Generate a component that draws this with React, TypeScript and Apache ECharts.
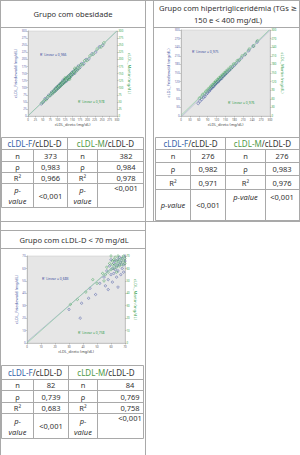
import React, { useEffect, useRef } from "react";
import * as echarts from "echarts";

// ---------- texts ----------
const panelTitles = ["Grupo com obesidade", "Grupo com hipertrigliceridémia (TGs ≥", "150 e < 400 mg/dL)", "Grupo com cLDL-D < 70 mg/dL"];
const xAxisTitle = "cLDL_direto (mg/dL)";
const leftAxisTitle = "cLDL_Friedewald (mg/dL)";
const rightAxisTitle = "cLDL_Martin (mg/dL)";
const axisMax = [300, 300, 70];
const axisStep = [25, 30, 10];
const r2F = ["R² Linear = 0,966", "R² Linear = 0,975", "R² Linear = 0,683"];
const r2M = ["R² Linear = 0,978", "R² Linear = 0,976", "R² Linear = 0,758"];

// ---------- table values ----------
const rowLabels = ["n", "ρ", "R²", "p-value"];
const obesStatsF = ["373", "0,983", "0,966", "<0,001"];
const obesStatsM = ["382", "0,984", "0,978", "<0,001"];
const htgStatsF = ["276", "0,982", "0,971", "<0,001"];
const htgStatsM = ["276", "0,983", "0,976", "<0,001"];
const lowStatsF = ["82", "0,739", "0,683", "<0,001"];
const lowStatsM = ["84", "0,769", "0,758", "<0,001"];

// ---------- scatter points [cLDL-D, estimate] ----------
const obesF = [
  [45, 43], [52, 50], [58, 61], [64, 62], [70, 73], [76, 74], [80, 84], [84, 82], [88, 91], [91, 88],
  [94, 98], [97, 94], [99, 103], [102, 99], [104, 108], [107, 104], [109, 113], [111, 109], [114, 117],
  [116, 113], [118, 126], [121, 118], [123, 127], [125, 122], [128, 131], [130, 124], [133, 137], [135, 132],
  [138, 141], [141, 136], [143, 147], [146, 143], [149, 154], [152, 149], [155, 158], [158, 152], [162, 165],
  [166, 163], [170, 176], [175, 172], [181, 185], [188, 185], [196, 199], [205, 202], [216, 219], [228, 226],
  [241, 244], [252, 250],
];
const obesM = [
  [48, 47], [55, 55], [61, 58], [67, 68], [73, 71], [78, 80], [82, 79], [86, 88], [89, 86], [92, 95],
  [95, 92], [98, 101], [100, 98], [103, 106], [105, 102], [108, 111], [110, 107], [112, 116], [115, 112],
  [117, 120], [119, 116], [122, 125], [124, 121], [126, 130], [129, 126], [131, 134], [134, 130], [136, 140],
  [139, 136], [142, 145], [144, 141], [147, 151], [150, 147], [153, 156], [156, 153], [160, 163], [164, 160],
  [168, 172], [172, 168], [178, 181], [184, 181], [191, 195], [199, 196], [209, 212], [220, 218], [233, 236],
  [246, 244], [256, 258], [140, 130], [125, 134], [158, 168],
];
const htgF = [
  [58, 44], [64, 52], [70, 58], [76, 66], [80, 68], [85, 76], [89, 80], [93, 86], [96, 88], [99, 93],
  [102, 97], [105, 99], [108, 104], [110, 103], [113, 109], [116, 111], [118, 115], [121, 117], [124, 121],
  [126, 120], [129, 126], [132, 128], [135, 133], [137, 131], [140, 138], [143, 139], [146, 144], [149, 145],
  [152, 150], [156, 152], [160, 158], [164, 161], [169, 166], [174, 172], [180, 177], [187, 185], [195, 193],
  [204, 203], [215, 214], [228, 228], [243, 244], [256, 258],
];
const htgM = [
  [62, 62], [68, 66], [73, 75], [79, 78], [84, 86], [88, 87], [92, 94], [96, 95], [100, 103], [103, 102],
  [106, 109], [109, 108], [112, 115], [115, 114], [117, 121], [120, 119], [123, 127], [126, 125], [128, 132],
  [131, 130], [134, 138], [137, 136], [140, 144], [143, 142], [146, 150], [149, 148], [152, 156], [155, 154],
  [159, 163], [163, 161], [167, 171], [172, 170], [177, 181], [183, 182], [190, 193], [197, 196], [206, 209],
  [217, 216], [230, 233], [245, 244], [258, 262],
];
const lowF = [
  [30, 27], [38, 20], [39, 32], [44, 36], [45, 44], [49, 39], [52, 48], [55, 53], [56, 46], [57, 58],
  [58, 51], [59, 62], [60, 55], [61, 60], [61, 49], [62, 64], [62, 56], [63, 59], [63, 66], [64, 53],
  [64, 62], [65, 67], [65, 58], [65, 45], [66, 63], [66, 69], [67, 55], [67, 65], [68, 60], [68, 68],
  [69, 63], [69, 57], [70, 66], [70, 70], [60, 67], [58, 43],
];
const lowM = [
  [31, 31], [36, 35], [42, 41], [47, 51], [50, 48], [54, 56], [56, 55], [57, 61], [58, 57], [59, 64],
  [60, 59], [61, 63], [61, 66], [62, 60], [62, 67], [63, 63], [63, 69], [64, 61], [64, 66], [65, 64],
  [65, 70], [66, 62], [66, 67], [67, 65], [67, 71], [68, 63], [68, 68], [69, 66], [69, 70], [70, 64],
  [70, 68], [55, 50], [60, 70], [64, 57],
];
// fit lines (two end points)
const fitF = [[[0, 0], [300, 300]], [[0, -4], [300, 299]], [[0, 1], [70, 69]]];
const fitM = [[[0, 1], [300, 301]], [[0, 2], [300, 303]], [[0, 0], [70, 70]]];

const pointsF = [obesF, htgF, lowF];
const pointsM = [obesM, htgM, lowM];

// ---------- styling ----------
const FONT = "'Noto Sans', 'DejaVu Sans', sans-serif";
const BORDER = "#a9a9a9";
const BLUE = "#3e4fa0";
const GREEN = "#36a04e";
const HEAD_BLUE = "#3563a8";
const HEAD_GREEN = "#4f9a47";
const TXT = "#333333";

const grids = [
  { left: 28, top: 31, width: 89, height: 85 },
  { left: 181, top: 30, width: 89, height: 86 },
  { left: 27, top: 256, width: 98, height: 87 },
];
const symbolSizes = [2.6, 2.6, 2.2];

function hline(x1: number, x2: number, y: number) {
  return { type: "line", silent: true, shape: { x1, y1: y, x2, y2: y }, style: { stroke: BORDER, lineWidth: 1 } };
}
function vline(x: number, y1: number, y2: number) {
  return { type: "line", silent: true, shape: { x1: x, y1, x2: x, y2 }, style: { stroke: BORDER, lineWidth: 1 } };
}
function txt(x: number, y: number, text: string, size: number, fill = TXT, align = "center", extra: any = {}) {
  const italic = extra.italic ? "italic " : "";
  return {
    type: "text",
    silent: true,
    x,
    y,
    style: {
      text,
      fill,
      font: `${italic}${size}px ${FONT}`,
      align,
      verticalAlign: "middle",
      textAlign: align,
      textVerticalAlign: "middle",
      lineHeight: extra.lineHeight,
    },
  };
}
function header(x: number, y: number, which: string) {
  const col = which === "F" ? HEAD_BLUE : HEAD_GREEN;
  const font = `8px ${FONT}`;
  return {
    type: "text",
    silent: true,
    x,
    y,
    style: {
      text: `{a|cLDL-${which}}{b|/cLDL-D}`,
      align: "center",
      verticalAlign: "middle",
      textAlign: "center",
      textVerticalAlign: "middle",
      font,
      rich: {
        a: { fill: col, color: col, font },
        b: { fill: TXT, color: TXT, font },
      },
    },
  };
}

function table(cfg: any) {
  const { cols, rows, f, m, twoLineP, col4X, col4Align, pTop } = cfg;
  const [c0, c1, c2, c3, c4] = cols;
  const top = rows[0];
  const bot = rows[rows.length - 1];
  const els: any[] = [];
  rows.forEach((y: number) => els.push(hline(c0, c4, y)));
  els.push(vline(c0, top, bot), vline(c4, top, bot), vline(c2, top, bot));
  els.push(vline(c1, rows[1], bot), vline(c3, rows[1], bot));
  const hy = (rows[0] + rows[1]) / 2;
  els.push(header((c0 + c2) / 2, hy, "F"));
  els.push(header((c2 + c4) / 2, hy, "M"));
  for (let r = 0; r < 4; r++) {
    const y0 = rows[r + 1];
    const y1 = rows[r + 2];
    const cy = (y0 + y1) / 2;
    if (r < 3) {
      els.push(txt((c0 + c1) / 2, cy, rowLabels[r], 7.5));
      els.push(txt((c2 + c3) / 2, cy, rowLabels[r], 7.5));
      els.push(txt((c1 + c2) / 2, cy, f[r], 7.5));
      els.push(txt(col4X, cy, m[r], 7.5, TXT, col4Align));
    } else {
      const lbl = twoLineP ? "p-\nvalue" : rowLabels[3];
      els.push(txt((c0 + c1) / 2, cy, lbl, 7.5, TXT, "center", { italic: true, lineHeight: 11 }));
      els.push(txt((c2 + c3) / 2, twoLineP ? cy : y0 + pTop, lbl, 7.5, TXT, "center", { italic: true, lineHeight: 11 }));
      els.push(txt((c1 + c2) / 2, cy, f[r], 7.5));
      els.push(txt(col4X, y0 + pTop, m[r], 7.5, TXT, col4Align));
    }
  }
  return els;
}

function buildOption() {
  const xAxis: any[] = [];
  const yAxis: any[] = [];
  const series: any[] = [];
  const grid: any[] = [];
  for (let i = 0; i < 3; i++) {
    grid.push({ ...grids[i], show: true, backgroundColor: "#e6e6e6", borderColor: "#c4c4c4", borderWidth: 0.5 });
    const common = {
      gridIndex: i,
      type: "value",
      min: 0,
      max: axisMax[i],
      interval: axisStep[i],
      splitLine: { show: false },
      axisLine: { show: true, onZero: false, lineStyle: { color: "#9a9a9a", width: 0.5 } },
      axisTick: { show: true, length: 1.5, lineStyle: { color: "#9a9a9a", width: 0.5 } },
    };
    xAxis.push({
      ...common,
      name: xAxisTitle,
      nameLocation: "middle",
      nameGap: 6.5,
      nameTextStyle: { fontSize: 3.8, color: "#444", fontFamily: FONT },
      axisLabel: { fontSize: 2.8, margin: 2, color: "#555", fontFamily: FONT },
    });
    yAxis.push({
      ...common,
      position: "left",
      name: leftAxisTitle,
      nameLocation: "middle",
      nameGap: 7,
      nameRotate: 90,
      nameTextStyle: { fontSize: 4.2, color: BLUE, fontFamily: FONT },
      axisLabel: { fontSize: 2.8, margin: 1.5, color: "#5a62a6", fontFamily: FONT },
    });
    yAxis.push({
      ...common,
      position: "right",
      name: rightAxisTitle,
      nameLocation: "middle",
      nameGap: 7,
      nameRotate: -90,
      nameTextStyle: { fontSize: 4.2, color: GREEN, fontFamily: FONT },
      axisLabel: { fontSize: 2.8, margin: 1.5, color: GREEN, fontFamily: FONT },
    });
    series.push({
      type: "line",
      xAxisIndex: i,
      yAxisIndex: 2 * i,
      data: fitF[i],
      showSymbol: false,
      silent: true,
      lineStyle: { color: "#a9b0cf", width: 0.7 },
    });
    series.push({
      type: "line",
      xAxisIndex: i,
      yAxisIndex: 2 * i + 1,
      data: fitM[i],
      showSymbol: false,
      silent: true,
      lineStyle: { color: "#8ccba0", width: 0.7 },
    });
    series.push({
      type: "scatter",
      xAxisIndex: i,
      yAxisIndex: 2 * i,
      data: pointsF[i],
      symbol: "circle",
      symbolSize: symbolSizes[i],
      itemStyle: { color: "rgba(0,0,0,0)", borderColor: BLUE, borderWidth: 0.6 },
    });
    series.push({
      type: "scatter",
      xAxisIndex: i,
      yAxisIndex: 2 * i + 1,
      data: pointsM[i],
      symbol: "circle",
      symbolSize: symbolSizes[i],
      itemStyle: { color: "rgba(0,0,0,0)", borderColor: GREEN, borderWidth: 0.6 },
    });
  }

  const els: any[] = [];
  // frame
  els.push(hline(0, 300, 0.5));
  els.push(vline(0.5, 0, 455));
  els.push(vline(145.5, 0, 455));
  els.push(vline(153.5, 0, 221.5));
  els.push(vline(299.5, 0, 221.5));
  els.push(hline(0, 145.5, 27.5));
  els.push(hline(153.5, 300, 27.5));
  els.push(hline(0, 300, 221.5));
  els.push(hline(0, 145.5, 230.5));
  els.push(hline(0, 145.5, 248.5));
  // titles
  els.push(txt(73, 14, panelTitles[0], 7.6));
  els.push(txt(228, 7.5, panelTitles[1], 7.6));
  els.push(txt(228, 19.5, panelTitles[2], 7.6));
  els.push(txt(74, 240, panelTitles[3], 7.6));
  // R² annotations
  const r2Pos = [
    [[40, 54], [78, 101]],
    [[192, 51], [228, 102]],
    [[42, 278], [78, 332]],
  ];
  for (let i = 0; i < 3; i++) {
    els.push(txt(r2Pos[i][0][0], r2Pos[i][0][1], r2F[i], 3.4, BLUE, "left"));
    els.push(txt(r2Pos[i][1][0], r2Pos[i][1][1], r2M[i], 3.4, GREEN, "left"));
  }
  // tables
  els.push(
    ...table({
      cols: [1.5, 33.5, 67.5, 97.5, 143.5],
      rows: [137.5, 149.5, 161.5, 172.5, 183.5, 207.5],
      f: obesStatsF,
      m: obesStatsM,
      twoLineP: true,
      col4X: 126,
      col4Align: "center",
      pTop: 4.5,
    })
  );
  els.push(
    ...table({
      cols: [155.5, 190.5, 225.5, 265.5, 299.5],
      rows: [137.5, 149.5, 162.5, 175.5, 189.5, 220.5],
      f: htgStatsF,
      m: htgStatsM,
      twoLineP: false,
      col4X: 282,
      col4Align: "center",
      pTop: 7.5,
    })
  );
  els.push(
    ...table({
      cols: [1.5, 33.5, 68.5, 97.5, 143.5],
      rows: [365.5, 379.5, 390.5, 402.5, 413.5, 438.5],
      f: lowStatsF,
      m: lowStatsM,
      twoLineP: true,
      col4X: 130,
      col4Align: "center",
      pTop: 4,
    })
  );

  return {
    animation: false,
    backgroundColor: "#ffffff",
    grid,
    xAxis,
    yAxis,
    series,
    graphic: { elements: els },
  };
}

export default function App() {
  const ref = useRef<HTMLDivElement>(null);
  useEffect(() => {
    if (!ref.current) return;
    const chart = echarts.init(ref.current, undefined, { renderer: "svg" });
    chart.setOption(buildOption() as any);
    return () => chart.dispose();
  }, []);
  return <div ref={ref} style={{ position: "absolute", left: 0, top: 0, width: 300, height: 455 }} />;
}
